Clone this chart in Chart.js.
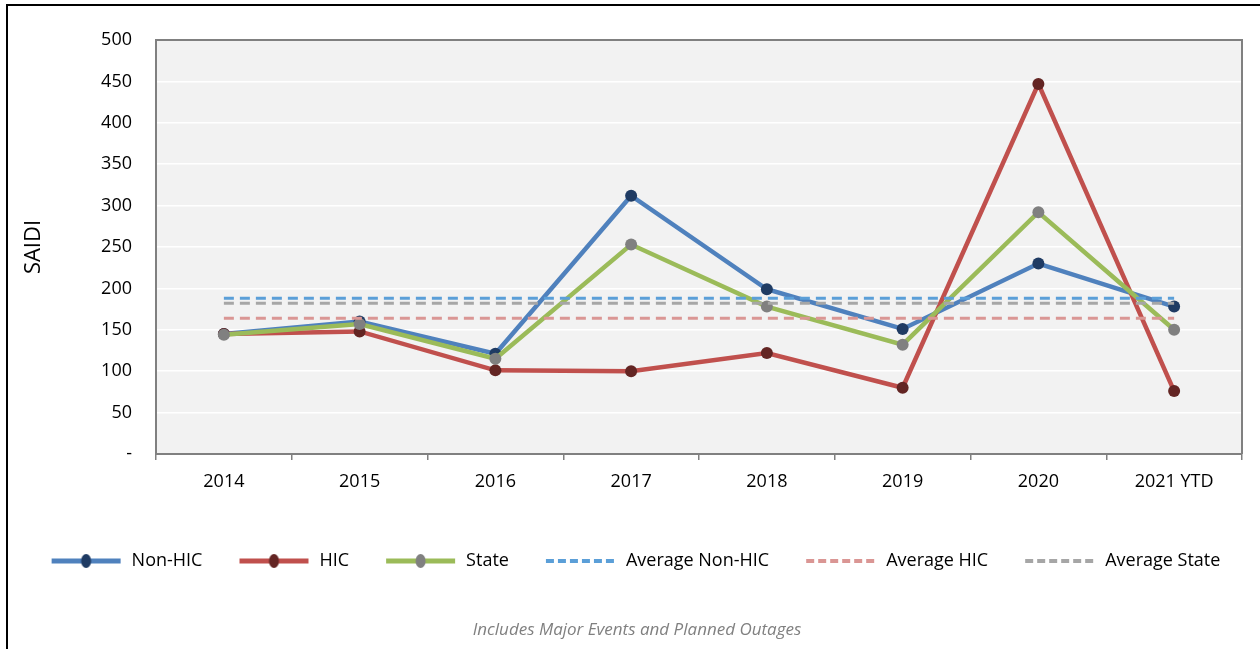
<!DOCTYPE html>
<html>
<head>
<meta charset="utf-8">
<script src="https://cdn.jsdelivr.net/npm/chart.js@4/dist/chart.umd.min.js"></script>
<style>
  html, body { margin: 0; padding: 0; width: 1260px; height: 649px; overflow: hidden; background: #fff; }
  #frame { position: absolute; left: 6px; top: 4px; width: 1300px; height: 700px; border: 2px solid #000; box-sizing: border-box; }
  #wrap { position: absolute; left: 0; top: 0; width: 1260px; height: 649px; }
  #caption { position: absolute; left: 0; width: 1274px; top: 617px; text-align: center; font-family: "Open Sans", sans-serif; font-style: italic; font-size: 17px; color: #808080; }
</style>
</head>
<body>
<div id="frame"></div>
<div id="wrap"><canvas id="c" width="1260" height="649"></canvas></div>
<div id="caption">Includes Major Events and Planned Outages</div>
<script>
const years = ['2014', '2015', '2016', '2017', '2018', '2019', '2020', '2021 YTD'];
const nonHic = [145, 160, 121, 312, 199, 151, 230, 178];
const hic = [145, 148, 101, 100, 122, 80, 447, 76];
const state = [144, 157, 115, 253, 178, 132, 292, 150];
const avgNonHic = [188, 188, 188, 188, 188, 188, 188, 188];
const avgHic = [164, 164, 164, 164, 164, 164, 164, 164];
const avgState = [182, 182, 182, 182, 182, 182, 182, 182];
const yTicks = [0, 50, 100, 150, 200, 250, 300, 350, 400, 450, 500];

const FONT = '"Open Sans", sans-serif';

function sample(color, dot, dashed) {
  const cv = document.createElement('canvas');
  cv.width = 73; cv.height = 14;
  const g = cv.getContext('2d');
  g.strokeStyle = color;
  g.lineWidth = dashed ? 4 : 5;
  if (dashed) g.setLineDash([8, 4]);
  g.beginPath(); g.moveTo(2, 7); g.lineTo(71, 7); g.stroke();
  if (dot) {
    g.fillStyle = dot;
    g.beginPath(); g.ellipse(36.5, 7, 5, 7, 0, 0, Math.PI * 2); g.fill();
  }
  return cv;
}

const series = [
  { label: 'Non-HIC', data: nonHic, color: '#4F81BD', dot: '#1F3B63', order: 6 },
  { label: 'HIC', data: hic, color: '#C0504D', dot: '#632523', order: 5 },
  { label: 'State', data: state, color: '#9BBB59', dot: '#808080', order: 4 },
  { label: 'Average Non-HIC', data: avgNonHic, color: '#5B9FD8', dash: true, order: 3 },
  { label: 'Average HIC', data: avgHic, color: '#DA9694', dash: true, order: 2 },
  { label: 'Average State', data: avgState, color: '#A6A6A6', dash: true, order: 1 }
];

const datasets = series.map(s => ({
  label: s.label,
  data: s.data,
  borderColor: s.color,
  backgroundColor: s.color,
  borderWidth: s.dash ? 3 : 4.5,
  borderDash: s.dash ? [10, 6] : [],
  pointRadius: s.dash ? 0 : 6,
  pointHoverRadius: s.dash ? 0 : 6,
  pointBackgroundColor: s.dot || s.color,
  pointBorderColor: s.dot || s.color,
  pointBorderWidth: 0,
  tension: 0,
  fill: false,
  order: s.order,
  _sample: sample(s.color, s.dot, s.dash)
}));

const plotBg = {
  id: 'plotBg',
  beforeDraw(chart) {
    const a = chart.chartArea, ctx = chart.ctx;
    ctx.save();
    ctx.fillStyle = '#F2F2F2';
    ctx.fillRect(a.left, a.top, a.right - a.left, a.bottom - a.top);
    ctx.restore();
  },
  beforeDatasetsDraw(chart) {
    const a = chart.chartArea, ctx = chart.ctx;
    ctx.save();
    ctx.strokeStyle = '#808080';
    ctx.lineWidth = 2;
    ctx.beginPath();
    ctx.moveTo(a.left, a.top); ctx.lineTo(a.right, a.top); ctx.lineTo(a.right, a.bottom);
    ctx.stroke();
    ctx.restore();
  },
  afterLayout(chart) {
    const lg = chart.legend;
    if (lg) { lg.left += 14; lg.right += 14; }
  }
};

new Chart(document.getElementById('c'), {
  type: 'line',
  data: { labels: years, datasets },
  plugins: [plotBg],
  options: {
    responsive: false,
    animation: false,
    layout: { padding: { top: 40, right: 18, left: 0, bottom: 69 } },
    plugins: {
      tooltip: { enabled: false },
      legend: {
        position: 'bottom',
        labels: {
          usePointStyle: true,
          pointStyleWidth: 73,
          padding: 35,
          color: '#000',
          font: { family: FONT, size: 18 },
          generateLabels(chart) {
            return chart.data.datasets.map((d, i) => ({
              text: d.label,
              fillStyle: d.borderColor,
              strokeStyle: d.borderColor,
              lineWidth: 0,
              pointStyle: d._sample,
              hidden: false,
              datasetIndex: i,
              fontColor: '#000'
            }));
          }
        }
      }
    },
    scales: {
      x: {
        offset: true,
        grid: { display: true, drawOnChartArea: false, drawTicks: true, tickLength: 6, color: '#808080', lineWidth: 1.5, offset: true },
        border: { display: true, color: '#808080', width: 2 },
        ticks: { color: '#000', font: { family: FONT, size: 18 }, padding: 11, maxRotation: 0 },
        afterFit(s) { s.height = 63; }
      },
      y: {
        min: 0, max: 500,
        afterBuildTicks(s) { s.ticks = yTicks.map(v => ({ value: v })); },
        grid: { color: '#FFFFFF', lineWidth: 1.5, drawTicks: false },
        border: { display: true, color: '#808080', width: 2 },
        ticks: {
          color: '#000', font: { family: FONT, size: 18 }, padding: 24,
          callback: v => (v === 0 ? '-' : String(v))
        },
        title: { display: true, text: 'SAIDI', color: '#000', font: { family: FONT, size: 22 }, padding: { top: 21, bottom: 0 } },
        afterFit(s) { s.width = 156; }
      }
    }
  }
});
</script>
</body>
</html>
